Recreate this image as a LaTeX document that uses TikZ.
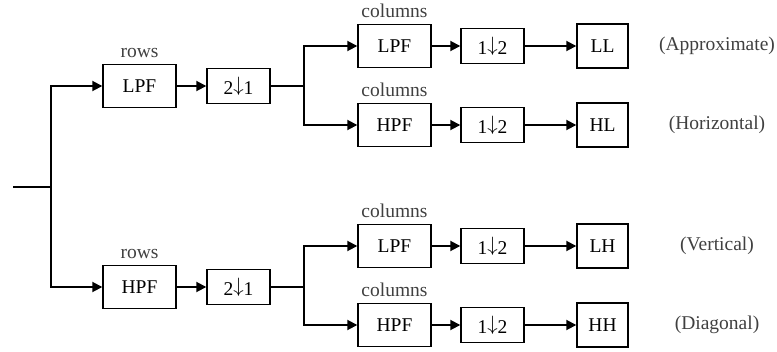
\documentclass[tikz,border=0pt]{standalone}
\usepackage{fontspec}
\setmainfont{Liberation Serif}
\usetikzlibrary{arrows.meta}
\newcommand{\dn}{\raisebox{0.15em}{$\downarrow$}}

\begin{document}
\begin{tikzpicture}[x=1pt,y=-1pt,>={Triangle[length=10pt,width=10pt]},line width=1.8pt,
  font=\fontsize{19.5}{23}\selectfont,label distance=2pt]
\tikzstyle{every label}=[text=black!75]
\tikzstyle{filt}=[draw,line width=1.4pt,minimum width=73pt,minimum height=43pt,inner sep=0pt]
\tikzstyle{dsmp}=[filt,minimum width=63pt,minimum height=35pt]
\tikzstyle{band}=[filt,minimum width=51pt,minimum height=44pt]
\tikzstyle{note}=[text=black!75]
\useasboundingbox (0,0) rectangle (777,351);
\coordinate (in) at (13,187);
\coordinate (br) at (51,187);
% rows, low pass
\node[filt,label=above:rows] (rl) at (139.5,86) {LPF};
\node[dsmp][right of=rl,node distance=99pt](rld){2\dn1};
\coordinate[right of=rld,node distance=65.5pt] (rls);
\node[filt,label=above:columns] (ll) at (394.5,46) {LPF};
\node[dsmp][right of=ll,node distance=98pt](lld){1\dn2};
\node[band][right of=lld,node distance=110pt](LL){LL};
\node[note][right of=LL,node distance=114.5pt](LLt){(Approximate)};
\node[filt,label=above:columns] (lh) at (394.5,125) {HPF};
\node[dsmp][right of=lh,node distance=98pt](lhd){1\dn2};
\node[band][right of=lhd,node distance=110pt](HL){HL};
\node[note][right of=HL,node distance=114.5pt](HLt){(Horizontal)};
% rows, high pass
\node[filt,label=above:rows] (rh) at (139.5,287) {HPF};
\node[dsmp][right of=rh,node distance=99pt](rhd){2\dn1};
\coordinate[right of=rhd,node distance=65.5pt] (rhs);
\node[filt,label=above:columns] (hl) at (394.5,246) {LPF};
\node[dsmp][right of=hl,node distance=98pt](hld){1\dn2};
\node[band][right of=hld,node distance=110pt](LH){LH};
\node[note][right of=LH,node distance=114.5pt](LHt){(Vertical)};
\node[filt,label=above:columns] (hh) at (394.5,325) {HPF};
\node[dsmp][right of=hh,node distance=98pt](hhd){1\dn2};
\node[band][right of=hhd,node distance=110pt](HH){HH};
\node[note][right of=HH,node distance=114.5pt](HHt){(Diagonal)};
\draw (in) -- (br);
\draw[->] (br) |- (rl);
\draw[->] (br) |- (rh);
\draw[->] (rl) -- (rld);
\draw (rld) -- (rls);
\draw[->] (rls) |- (ll);
\draw[->] (rls) |- (lh);
\draw[->] (rh) -- (rhd);
\draw (rhd) -- (rhs);
\draw[->] (rhs) |- (hl);
\draw[->] (rhs) |- (hh);
\draw[->] (ll) -- (lld);
\draw[->] (lld) -- (LL);
\draw[->] (lh) -- (lhd);
\draw[->] (lhd) -- (HL);
\draw[->] (hl) -- (hld);
\draw[->] (hld) -- (LH);
\draw[->] (hh) -- (hhd);
\draw[->] (hhd) -- (HH);
\end{tikzpicture}
\end{document}
